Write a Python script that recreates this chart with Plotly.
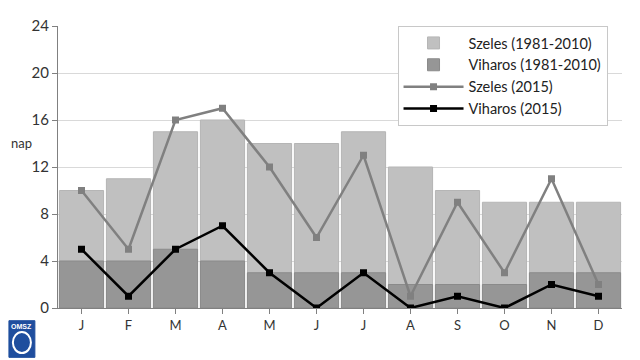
import plotly.graph_objects as go

months = ["J", "F", "M", "A", "M", "J", "J", "A", "S", "O", "N", "D"]
szeles_avg = [10, 11, 15, 16, 14, 14, 15, 12, 10, 9, 9, 9]
viharos_avg = [4, 4, 5, 4, 3, 3, 3, 2, 2, 2, 3, 3]
szeles_2015 = [10, 5, 16, 17, 12, 6, 13, 1, 9, 3, 11, 2]
viharos_2015 = [5, 1, 5, 7, 3, 0, 3, 0, 1, 0, 2, 1]
yticks = [0, 4, 8, 12, 16, 20, 24]

x = list(range(len(months)))

fig = go.Figure()
fig.add_trace(go.Bar(x=x, y=szeles_avg, name="Szeles (1981-2010)",
                     marker=dict(color="#c0c0c0", line=dict(color="#b5b5b5", width=1))))
fig.add_trace(go.Bar(x=x, y=viharos_avg, name="Viharos (1981-2010)",
                     marker=dict(color="#969696", line=dict(color="#8a8a8a", width=1))))
fig.add_trace(go.Scatter(x=x, y=szeles_2015, name="Szeles (2015)", mode="lines+markers",
                         line=dict(color="#808080", width=2.5),
                         marker=dict(symbol="square", size=7, color="#808080")))
fig.add_trace(go.Scatter(x=x, y=viharos_2015, name="Viharos (2015)", mode="lines+markers",
                         line=dict(color="#000000", width=2.5),
                         marker=dict(symbol="square", size=7, color="#000000")))

# page body has an 8px default margin, so the figure is 8px smaller on each side
fig.update_layout(
    width=632, height=352,
    margin=dict(l=50, r=18, t=18, b=52, autoexpand=False),
    paper_bgcolor="white", plot_bgcolor="white",
    barmode="overlay", bargap=0.06,
    font=dict(family="Lato, Liberation Sans, sans-serif", color="#333333", size=13),
    showlegend=True,
    legend=dict(x=0.602, y=1, xanchor="left", yanchor="top",
                bgcolor="white", bordercolor="#c8c8c8", borderwidth=1,
                font=dict(size=14.5, color="#222222"), tracegroupgap=0,
                itemwidth=60),
    xaxis=dict(tickmode="array", tickvals=x, ticktext=months,
               range=[-0.5, 11.5], showgrid=False, showline=True,
               linecolor="#808080", linewidth=1, ticks="outside", ticklen=5,
               tickcolor="#808080", tickson="boundaries", automargin=False,
               tickfont=dict(size=13, color="#333333")),
    yaxis=dict(range=[0, 24], tickvals=yticks, showgrid=True, gridcolor="#d9d9d9",
               gridwidth=1, showline=True, linecolor="#808080", linewidth=1,
               ticks="outside", ticklen=5, tickcolor="#808080", automargin=False,
               tickfont=dict(size=15, color="#333333"), zeroline=False),
    annotations=[
        dict(text="nap", xref="paper", yref="paper", x=-0.087, y=0.585,
             xanchor="left", yanchor="middle", showarrow=False,
             font=dict(size=13, color="#333333")),
        dict(text="<b>OMSZ</b>", xref="paper", yref="paper", x=-0.064, y=-0.065,
             xanchor="center", yanchor="middle", showarrow=False,
             font=dict(size=7, color="white", family="Liberation Sans")),
    ],
    shapes=[
        dict(type="rect", xref="paper", yref="paper", x0=-0.087, x1=-0.041,
             y0=-0.175, y1=-0.045, fillcolor="#1f4e9e", line=dict(color="#1f4e9e", width=1)),
        dict(type="circle", xref="paper", yref="paper", x0=-0.08, x1=-0.048,
             y0=-0.16, y1=-0.085, fillcolor="rgba(0,0,0,0)", line=dict(color="white", width=2)),
    ],
)

fig.write_html("out.html")
